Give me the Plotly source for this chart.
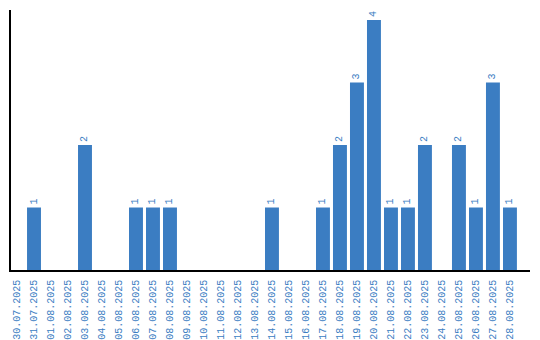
import plotly.graph_objects as go

dates = ["30.07.2025", "31.07.2025", "01.08.2025", "02.08.2025", "03.08.2025",
         "04.08.2025", "05.08.2025", "06.08.2025", "07.08.2025", "08.08.2025",
         "09.08.2025", "10.08.2025", "11.08.2025", "12.08.2025", "13.08.2025",
         "14.08.2025", "15.08.2025", "16.08.2025", "17.08.2025", "18.08.2025",
         "19.08.2025", "20.08.2025", "21.08.2025", "22.08.2025", "23.08.2025",
         "24.08.2025", "25.08.2025", "26.08.2025", "27.08.2025", "28.08.2025"]
counts = [0, 1, 0, 0, 2,
          0, 0, 1, 1, 1,
          0, 0, 0, 0, 0,
          1, 0, 0, 1, 2,
          3, 4, 1, 1, 2,
          0, 2, 1, 3, 1]

blue = "#3b7dc2"
font = dict(family="Liberation Mono, Courier New, monospace", size=10, color=blue)

labels = [str(v) if v > 0 else "" for v in counts]

fig = go.Figure(go.Bar(
    x=list(range(len(dates))), y=counts,
    marker=dict(color=blue, line=dict(width=0)),
    width=0.82,
    text=labels, textposition="outside", textangle=-90,
    textfont=font, cliponaxis=False, hoverinfo="skip",
))

fig.update_layout(
    width=540, height=340,
    margin=dict(l=11, r=10, t=10, b=70, autoexpand=False),
    paper_bgcolor="white", plot_bgcolor="white",
    showlegend=False,
    xaxis=dict(
        range=[-0.353, 30.18], automargin=False,
        tickmode="array", tickvals=list(range(len(dates))), ticktext=dates,
        tickangle=-90, tickfont=font, ticks="", showgrid=False, zeroline=False,
        showline=True, linecolor="black", linewidth=1.5,
        ticklabelstandoff=4,
    ),
    yaxis=dict(
        range=[0, 4.16], showticklabels=False, ticks="", showgrid=False,
        automargin=False,
        zeroline=False, showline=True, linecolor="black", linewidth=1.5,
    ),
)

fig.write_html("out.html")
